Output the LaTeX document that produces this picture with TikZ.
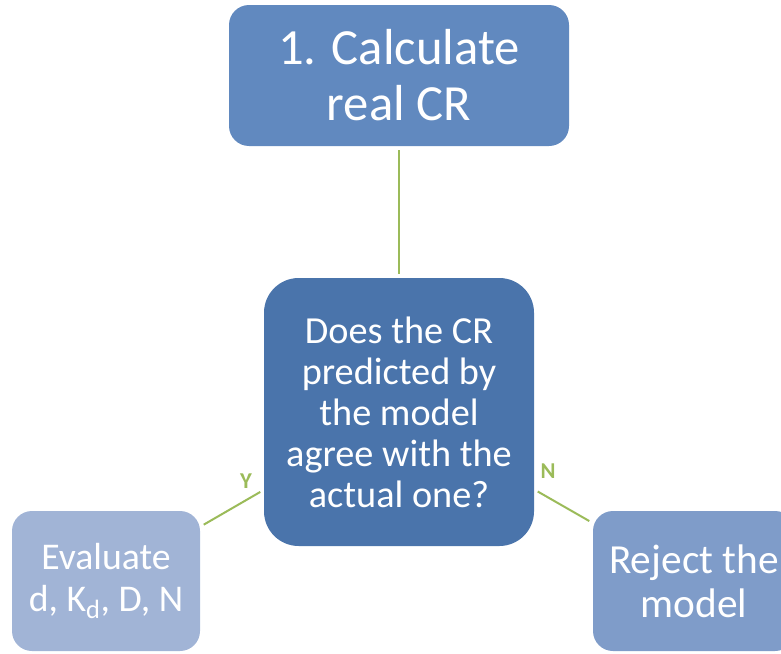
\documentclass[tikz,border=0pt]{standalone}
\usepackage{fontspec}
\setmainfont{Carlito}
\definecolor{topblue}{HTML}{6189BF}
\definecolor{midblue}{HTML}{4A74AB}
\definecolor{leftblue}{HTML}{A1B4D6}
\definecolor{rightblue}{HTML}{7F9CC9}
\definecolor{linkgreen}{HTML}{9BBB59}
\tikzset{
    box/.style={fill=#1, text=white, align=center, inner sep=0pt},
    link/.style={draw=linkgreen, line width=1.5pt, shorten <=3pt, shorten >=3pt},
    yn/.style={text=linkgreen, font=\bfseries\fontsize{17}{17}\selectfont}
}
\begin{document}
\begin{tikzpicture}[x=0.75pt, y=-0.75pt]
    \useasboundingbox (0,0) rectangle (781,653);
    \clip (0,0) rectangle (781,653);
    \node (calc) [box=topblue, minimum width=255pt, minimum height=105.75pt, rounded corners=15pt,
        font=\fontsize{38}{42}\selectfont] at (399,75.5) {1. Calculate\\real CR};
    \node (ask) [box=midblue, minimum width=202.5pt, minimum height=201pt, rounded corners=26pt,
        font=\fontsize{28.7}{30.75}\selectfont] at (399,412) {Does the CR\\predicted by\\the model\\agree with the\\actual one?};
    \node (eval) [box=leftblue, minimum width=141pt, minimum height=105pt, rounded corners=15pt,
        font=\fontsize{28.3}{32}\selectfont] at (106,581) {Evaluate\\d, K\textsubscript{d}, D, N};
    \node (reject) [box=rightblue, minimum width=151.5pt, minimum height=105pt, rounded corners=15pt,
        font=\fontsize{31}{33}\selectfont] at (694,581) {Reject the\\model};
    \draw [link] (calc) -- (ask);
    \draw [link] (ask) -- (eval);
    \draw [link] (ask) -- (reject);
    \node (yes) [yn] at (246,481) {Y};
    \node (no) [yn] at (548,471) {N};
\end{tikzpicture}
\end{document}
